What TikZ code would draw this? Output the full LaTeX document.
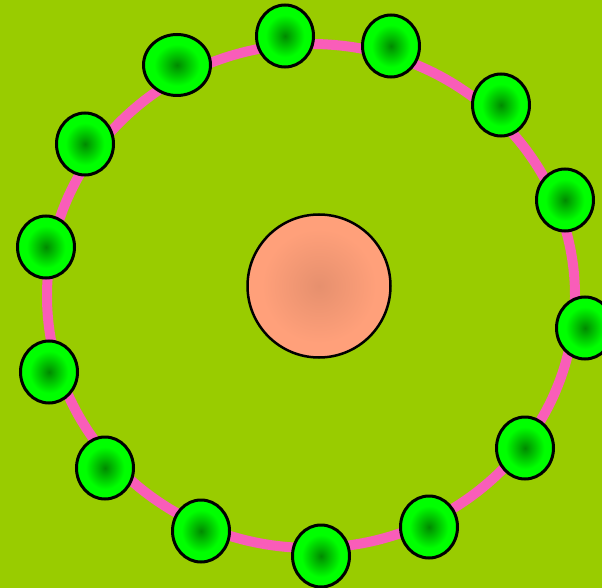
\documentclass[tikz,border=0pt]{standalone}
\usetikzlibrary{shapes.geometric}
\definecolor{bg}{HTML}{99CC00}
\definecolor{ring}{HTML}{F95DB9}
\definecolor{beadin}{HTML}{008A00}
\definecolor{beadout}{HTML}{00FF00}
\definecolor{corein}{HTML}{E6906E}
\definecolor{coreout}{HTML}{FFA07A}
\pgfdeclareradialshading{beadshade}{\pgfpointorigin}{color(0bp)=(beadin); color(17bp)=(beadout); color(50bp)=(beadout)}
\pgfdeclareradialshading{coreshade}{\pgfpointorigin}{color(0bp)=(corein); color(20bp)=(coreout); color(50bp)=(coreout)}
\tikzset{
  bead/.style={ellipse, draw=black, line width=3pt, inner sep=0pt,
    minimum width=57pt, minimum height=62pt, shading=beadshade},
  widebead/.style={bead, minimum width=67pt, minimum height=61pt},
  core/.style={circle, draw=black, line width=2.5pt, inner sep=0pt,
    minimum size=143pt, shading=coreshade},
  ringline/.style={draw=ring, line width=10pt}
}
\begin{document}
\begin{tikzpicture}[x=1pt,y=-1pt]
\useasboundingbox (0,0) rectangle (602,588);
\clip (0,0) rectangle (602,588);
\fill[bg] (0,0) rectangle (602,588);
\draw[ringline] (311,296) ellipse [x radius=264, y radius=252];
\node[widebead] (b1) at (177,65) {};
\node[bead] (b2) at (285,36) {};
\node[bead] (b3) at (391,46) {};
\node[bead] (b4) at (501,105) {};
\node[bead] (b5) at (565,200) {};
\node[bead] (b6) at (585,328) {};
\node[bead] (b7) at (525,448) {};
\node[bead] (b8) at (429,527) {};
\node[bead] (b9) at (321,556) {};
\node[bead] (b10) at (201,531) {};
\node[bead] (b11) at (105,468) {};
\node[bead] (b12) at (49,372) {};
\node[bead] (b13) at (46,247) {};
\node[bead] (b14) at (85,144) {};
\node[core] (c) at (319,286) {};
\end{tikzpicture}
\end{document}
